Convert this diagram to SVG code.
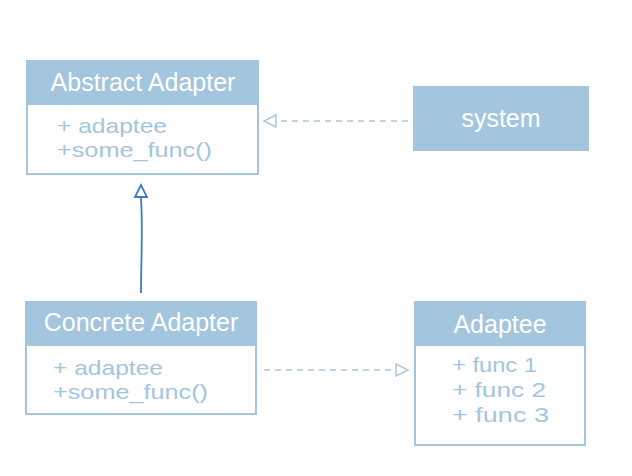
<svg xmlns="http://www.w3.org/2000/svg" width="632" height="476" viewBox="0 0 632 476">
<defs>
<style>
.box{fill:#ffffff;stroke:#a3c5de;stroke-width:2}
.hdr{fill:#a3c5de;stroke:#a3c5de;stroke-width:2}
.title{font-family:"Liberation Sans",Arial,sans-serif;font-size:25px;fill:#ffffff;text-anchor:middle}
.body{font-family:"Liberation Sans",Arial,sans-serif;font-size:21px;fill:#a3c5de}
.dash{fill:none;stroke:#a8c8e0;stroke-width:1.5;stroke-dasharray:6 5}
.openhead{fill:#ffffff;stroke:#a8c8e0;stroke-width:1.5}
.solid{fill:none;stroke:#3b7dc0;stroke-width:1.8}
</style>
</defs>
<rect width="632" height="476" fill="#ffffff"/>
<g id="connectors">
<path class="dash" d="M408,121 L276,121"/>
<path class="openhead" d="M276,115 L264,121 L276,127 Z"/>
<path class="dash" d="M264,370 L396,370"/>
<path class="openhead" d="M396,364 L408,370 L396,376 Z"/>
<path class="solid" d="M141,293 C141,260 143,230 141,198"/>
<path d="M135,197 L141,185 L147,197 Z" fill="#ffffff" stroke="#3b7dc0" stroke-width="1.8"/>
</g>
<g id="abstract-adapter">
<rect class="box" x="27" y="61" width="231" height="113"/>
<rect class="hdr" x="27" y="61" width="231" height="43"/>
<text class="title" x="143" y="91">Abstract Adapter</text>
<text class="body" x="57" y="133" textLength="110" lengthAdjust="spacingAndGlyphs">+ adaptee</text>
<text class="body" x="57" y="157" textLength="155" lengthAdjust="spacingAndGlyphs">+some_func()</text>
</g>
<g id="system">
<rect class="hdr" x="414" y="87" width="174" height="63"/>
<text class="title" x="501" y="127">system</text>
</g>
<g id="concrete-adapter">
<rect class="box" x="26" y="302" width="230" height="112"/>
<rect class="hdr" x="26" y="302" width="230" height="43"/>
<text class="title" x="141" y="331">Concrete Adapter</text>
<text class="body" x="53" y="375" textLength="110" lengthAdjust="spacingAndGlyphs">+ adaptee</text>
<text class="body" x="53" y="399" textLength="155" lengthAdjust="spacingAndGlyphs">+some_func()</text>
</g>
<g id="adaptee">
<rect class="box" x="415" y="302" width="170" height="143"/>
<rect class="hdr" x="415" y="302" width="170" height="43"/>
<text class="title" x="500" y="333">Adaptee</text>
<text class="body" x="452" y="372" textLength="85" lengthAdjust="spacingAndGlyphs">+ func 1</text>
<text class="body" x="452" y="397" textLength="94" lengthAdjust="spacingAndGlyphs">+ func 2</text>
<text class="body" x="452" y="422" textLength="97" lengthAdjust="spacingAndGlyphs">+ func 3</text>
</g>
</svg>
